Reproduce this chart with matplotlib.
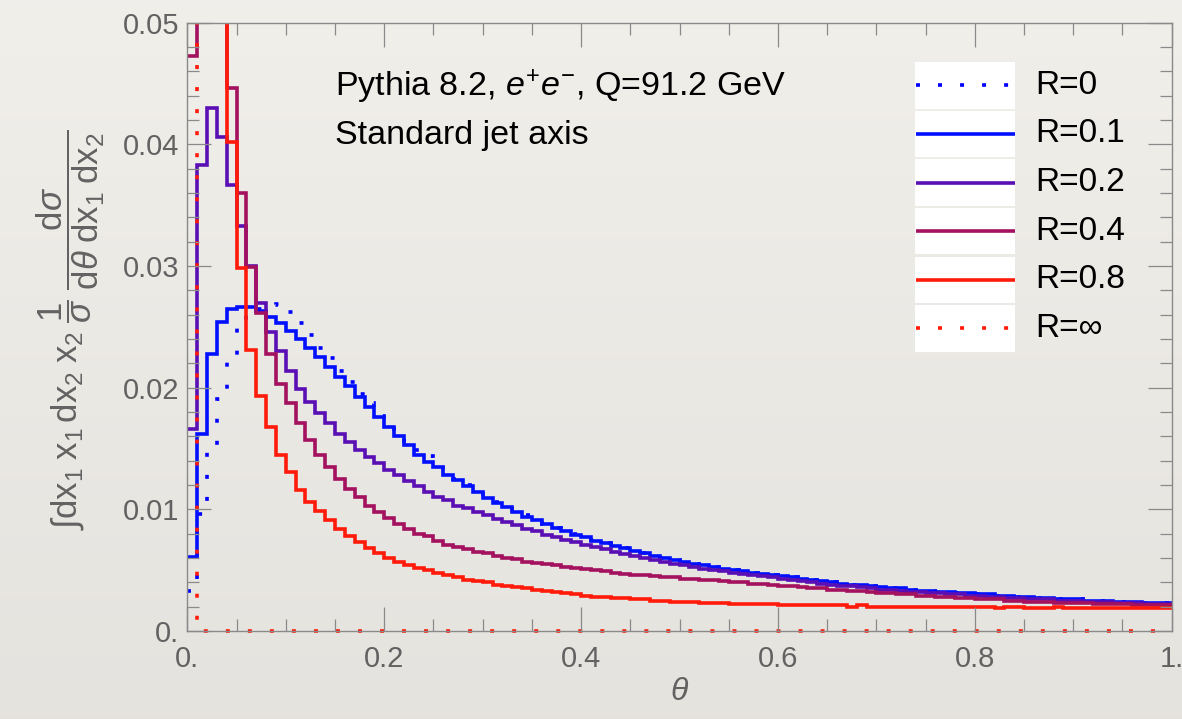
import numpy as np
import matplotlib
matplotlib.use("Agg")
import matplotlib.pyplot as plt
from matplotlib.patches import Rectangle

plt.rcParams['font.family'] = ['Liberation Sans', 'DejaVu Sans']
plt.rcParams['mathtext.fontset'] = 'custom'
plt.rcParams['mathtext.rm'] = 'Liberation Sans'
plt.rcParams['mathtext.it'] = 'Liberation Sans:italic'
plt.rcParams['mathtext.bf'] = 'Liberation Sans:bold'

# ---------------- data : 100 bins of width 0.01 in theta
theta_edges = np.linspace(0, 1, 101)

r0 = [0.0033, 0.0096, 0.0149, 0.0191, 0.0227, 0.0250, 0.0260, 0.0265, 0.0268, 0.0269,
      0.0262, 0.0253, 0.0243, 0.0233, 0.0224, 0.0214, 0.0205, 0.0195, 0.0187, 0.0177,
      0.0170, 0.0162, 0.0156, 0.0149, 0.0144, 0.0137, 0.0130, 0.0125, 0.0120, 0.0115,
      0.0110, 0.0106, 0.0102, 0.0099, 0.0095, 0.0091, 0.0088, 0.0085, 0.0082, 0.0080,
      0.0077, 0.0075, 0.0072, 0.0070, 0.0068, 0.0066, 0.0064, 0.0062, 0.0060, 0.0058,
      0.0057, 0.0055, 0.0054, 0.0053, 0.0051, 0.0050, 0.0049, 0.0048, 0.0047, 0.0046,
      0.0045, 0.0044, 0.0043, 0.0042, 0.0041, 0.0040, 0.0039, 0.0038, 0.0038, 0.0037,
      0.0036, 0.0035, 0.0035, 0.0034, 0.0033, 0.0033, 0.0032, 0.0032, 0.0031, 0.0031,
      0.0030, 0.0030, 0.0029, 0.0029, 0.0028, 0.0028, 0.0027, 0.0027, 0.0026, 0.0026,
      0.0026, 0.0025, 0.0025, 0.0025, 0.0024, 0.0024, 0.0024, 0.0023, 0.0023, 0.0023]

r01 = [0.0061, 0.0162, 0.0228, 0.0254, 0.0265, 0.0266, 0.0266, 0.0263, 0.0258, 0.0253,
       0.0247, 0.0240, 0.0233, 0.0225, 0.0217, 0.0209, 0.0201, 0.0192, 0.0184, 0.0176,
       0.0168, 0.0160, 0.0153, 0.0145, 0.0139, 0.0135, 0.0128, 0.0124, 0.0119, 0.0114,
       0.0109, 0.0105, 0.0102, 0.0098, 0.0094, 0.0091, 0.0088, 0.0085, 0.0082, 0.0079,
       0.0077, 0.0074, 0.0072, 0.0070, 0.0068, 0.0066, 0.0064, 0.0062, 0.0060, 0.0058,
       0.0057, 0.0055, 0.0054, 0.0053, 0.0051, 0.0050, 0.0049, 0.0048, 0.0047, 0.0046,
       0.0045, 0.0044, 0.0043, 0.0042, 0.0041, 0.0040, 0.0039, 0.0038, 0.0038, 0.0037,
       0.0036, 0.0035, 0.0035, 0.0034, 0.0033, 0.0033, 0.0032, 0.0032, 0.0031, 0.0031,
       0.0030, 0.0030, 0.0029, 0.0029, 0.0028, 0.0028, 0.0027, 0.0027, 0.0026, 0.0026,
       0.0026, 0.0025, 0.0025, 0.0025, 0.0024, 0.0024, 0.0024, 0.0023, 0.0023, 0.0023]

r02 = [0.0166, 0.0383, 0.0430, 0.0406, 0.0367, 0.0333, 0.0300, 0.0270, 0.0246, 0.0230,
       0.0214, 0.0199, 0.0188, 0.0179, 0.0171, 0.0162, 0.0155, 0.0149, 0.0143, 0.0138,
       0.0132, 0.0128, 0.0123, 0.0119, 0.0114, 0.0110, 0.0108, 0.0103, 0.0101, 0.0098,
       0.0095, 0.0092, 0.0090, 0.0087, 0.0084, 0.0082, 0.0079, 0.0077, 0.0075, 0.0073,
       0.0071, 0.0069, 0.0067, 0.0065, 0.0063, 0.0062, 0.0060, 0.0058, 0.0057, 0.0055,
       0.0054, 0.0053, 0.0051, 0.0050, 0.0049, 0.0048, 0.0047, 0.0046, 0.0045, 0.0044,
       0.0043, 0.0042, 0.0041, 0.0040, 0.0039, 0.0038, 0.0037, 0.0037, 0.0036, 0.0035,
       0.0034, 0.0034, 0.0033, 0.0032, 0.0032, 0.0031, 0.0031, 0.0030, 0.0030, 0.0029,
       0.0029, 0.0028, 0.0028, 0.0027, 0.0027, 0.0026, 0.0026, 0.0026, 0.0025, 0.0025,
       0.0025, 0.0024, 0.0024, 0.0024, 0.0023, 0.0023, 0.0023, 0.0022, 0.0022, 0.0022]

r04 = [0.0473, 0.0660, 0.0580, 0.0520, 0.0446, 0.0360, 0.0299, 0.0261, 0.0228, 0.0203,
       0.0187, 0.0171, 0.0157, 0.0145, 0.0135, 0.0125, 0.0117, 0.0110, 0.0103, 0.0098,
       0.0093, 0.0088, 0.0084, 0.0080, 0.0078, 0.0074, 0.0071, 0.0069, 0.0067, 0.0065,
       0.0064, 0.0062, 0.0060, 0.0059, 0.0057, 0.0056, 0.0055, 0.0054, 0.0053, 0.0052,
       0.0051, 0.0050, 0.0049, 0.0048, 0.0047, 0.0046, 0.0046, 0.0045, 0.0044, 0.0044,
       0.0043, 0.0043, 0.0042, 0.0042, 0.0041, 0.0040, 0.0040, 0.0039, 0.0039, 0.0038,
       0.0037, 0.0037, 0.0036, 0.0035, 0.0035, 0.0034, 0.0034, 0.0033, 0.0033, 0.0032,
       0.0031, 0.0031, 0.0030, 0.0030, 0.0029, 0.0029, 0.0028, 0.0028, 0.0027, 0.0027,
       0.0026, 0.0026, 0.0026, 0.0025, 0.0025, 0.0024, 0.0024, 0.0024, 0.0023, 0.0023,
       0.0023, 0.0023, 0.0022, 0.0022, 0.0022, 0.0022, 0.0021, 0.0021, 0.0021, 0.0021]

r08 = [0.0950, 0.0800, 0.0680, 0.0560, 0.0402, 0.0298, 0.0231, 0.0193, 0.0168, 0.0145,
       0.0131, 0.0116, 0.0106, 0.0099, 0.0091, 0.0084, 0.0078, 0.0073, 0.0068, 0.0064,
       0.0060, 0.0057, 0.0054, 0.0052, 0.0050, 0.0048, 0.0046, 0.0044, 0.0042, 0.0041,
       0.0040, 0.0038, 0.0037, 0.0036, 0.0035, 0.0034, 0.0033, 0.0032, 0.0031, 0.0030,
       0.0029, 0.0028, 0.0028, 0.0027, 0.0027, 0.0026, 0.0026, 0.0025, 0.0025, 0.0024,
       0.0024, 0.0024, 0.0023, 0.0023, 0.0023, 0.0022, 0.0022, 0.0022, 0.0022, 0.0022,
       0.0021, 0.0021, 0.0021, 0.0021, 0.0021, 0.0021, 0.0021, 0.0020, 0.0021, 0.0020,
       0.0020, 0.0020, 0.0020, 0.0020, 0.0020, 0.0020, 0.0020, 0.0020, 0.0020, 0.0020,
       0.0020, 0.0020, 0.0019, 0.0020, 0.0020, 0.0019, 0.0019, 0.0019, 0.0020, 0.0019,
       0.0019, 0.0019, 0.0019, 0.0019, 0.0019, 0.0019, 0.0019, 0.0019, 0.0019, 0.0019]

rinf = [2.0] + [0.0] * 99

series = [r0, r01, r02, r04, r08, rinf]
labels = ["R=0", "R=0.1", "R=0.2", "R=0.4", "R=0.8", "R=\u221e"]
colors = ["#0000ff", "#0010ff", "#5a0fb4", "#a3115f", "#ff1a0a", "#ff1a0a"]
styles = ["dot", "solid", "solid", "solid", "solid", "dot"]

xticks = [0, 0.2, 0.4, 0.6, 0.8, 1.0]
xticklabels = ["0.", "0.2", "0.4", "0.6", "0.8", "1."]
yticks = [0, 0.01, 0.02, 0.03, 0.04, 0.05]
yticklabels = ["0.", "0.01", "0.02", "0.03", "0.04", "0.05"]

# ---------------- figure
fig = plt.figure(figsize=(11.82, 7.19), dpi=100)

bg = fig.add_axes([0, 0, 1, 1], zorder=-10)
grad = np.linspace(0, 1, 256)[:, None]
bgcols = np.array([[0.945, 0.937, 0.918], [0.898, 0.890, 0.872]])
img = bgcols[0] * (1 - grad[..., None]) + bgcols[1] * grad[..., None]
bg.imshow(np.repeat(img, 4, axis=1), aspect='auto', extent=[0, 1, 0, 1])
bg.axis('off')

ax = fig.add_axes([0.1585, 0.1224, 0.8328, 0.846])
ax.set_facecolor('none')

lw = 2.6
clip = Rectangle((0, -0.01), 1, 1.01, transform=ax.transAxes, facecolor='none', edgecolor='none')
ax.add_patch(clip)

for vals, c, st in zip(series, colors, styles):
    ls = (0, (1.1, 5.0)) if st == "dot" else '-'
    sp = ax.stairs(vals, theta_edges, baseline=None, color=c, lw=lw, linestyle=ls)
    sp.set_capstyle('butt')
    sp.set_joinstyle('miter')
    sp.set_clip_path(clip)

ax.set_xlim(0, 1)
ax.set_ylim(0, 0.05)

grey = '#8a8a8a'
for s in ax.spines.values():
    s.set_color(grey)
    s.set_linewidth(1.0)

ax.set_xticks(xticks)
ax.set_xticklabels(xticklabels)
ax.set_yticks(yticks)
ax.set_yticklabels(yticklabels)
ax.set_xticks(np.arange(0, 1.0001, 0.05), minor=True)
ax.set_yticks(np.arange(0, 0.05001, 0.002), minor=True)
ax.tick_params(which='both', direction='in', top=True, right=True, color=grey, width=0.9)
ax.tick_params(which='major', length=17, labelsize=21, labelcolor='#626262')
ax.tick_params(which='minor', length=8.5)
ax.tick_params(axis='x', which='major', pad=10)
ax.tick_params(axis='y', which='major', pad=6)

ax.set_xlabel(r'$\theta$', fontsize=23, color='#626262')
ax.xaxis.set_label_coords(0.5, -0.075)
ax.set_ylabel(r'$\int\mathrm{dx}_1\;\mathrm{x}_1\,\mathrm{dx}_2\;\mathrm{x}_2\;'
              r'\dfrac{1}{\sigma}\;\dfrac{\mathrm{d}\sigma}{\mathrm{d}\theta\;\mathrm{dx}_1\;\mathrm{dx}_2}$',
              fontsize=25, color='#626262')
ax.yaxis.set_label_coords(-0.082, 0.495)

ax.text(0.15, 0.894, r'Pythia 8.2, $e^{+}e^{-}$, Q=91.2 GeV', transform=ax.transAxes,
        fontsize=24.5, va='center', ha='left', color='black')
ax.text(0.15, 0.815, 'Standard jet axis', transform=ax.transAxes,
        fontsize=24.5, va='center', ha='left', color='black')

# ---------------- legend drawn as white cells
x0, x1, xt = 0.7392, 0.8408, 0.861
ytop, dy, h = 0.897, 0.0799, 0.0764
for i, (lab, c, st) in enumerate(zip(labels, colors, styles)):
    yc = ytop - i * dy
    ax.add_patch(Rectangle((x0, yc - h / 2), x1 - x0, h, transform=ax.transAxes,
                           facecolor='white', edgecolor='none', zorder=5))
    ls = (0, (1.1, 5.0)) if st == "dot" else '-'
    ax.plot([x0 + 0.001, x1], [yc, yc], transform=ax.transAxes, color=c, lw=lw,
            linestyle=ls, dash_capstyle='butt', solid_capstyle='butt', zorder=6)
    ax.text(xt, yc, lab, transform=ax.transAxes, fontsize=24, va='center', ha='left',
            color='black', zorder=6)

fig.savefig('out.png', dpi=100)
